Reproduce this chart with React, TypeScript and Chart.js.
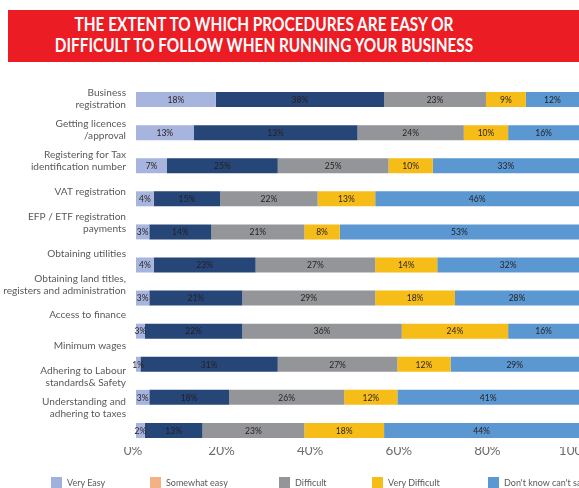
import React, { useEffect, useLayoutEffect, useRef } from "react";
import { Chart, registerables } from "chart.js";

Chart.register(...registerables);

// ---------- data ----------
const categories: string[][] = [
  ["Business", "registration"],
  ["Getting licences", "/approval"],
  ["Registering for Tax", "identification number"],
  ["VAT registration"],
  ["EFP / ETF registration", "payments"],
  ["Obtaining utilities"],
  ["Obtaining land titles,", "registers and administration"],
  ["Access to finance"],
  ["Minimum wages"],
  ["Adhering to Labour", "standards& Safety"],
  ["Understanding and", "adhering to taxes"],
];

const seriesNames = ["Very Easy", "Somewhat easy", "Difficult", "Very Difficult", "Don't know can't say"];

// bar lengths as drawn (%)
const veryEasy = [18, 13, 7, 4, 3, 4, 3, 2, 1, 3, 2];
const somewhatEasy = [38, 37, 25, 15, 14, 23, 21, 22, 31, 18, 13];
const difficult = [23, 24, 25, 22, 21, 27, 30, 36, 27, 26, 23];
const veryDifficult = [9, 10, 10, 13, 8, 14, 18, 24, 12, 12, 18];
const dontKnow = [12, 16, 33, 46, 54, 32, 28, 16, 29, 41, 44];

// labels as printed on the bars
const veryEasyText = ["18%", "13%", "7%", "4%", "3%", "4%", "3%", "3%", "1%", "3%", "2%"];
const somewhatEasyText = ["38%", "13%", "25%", "15%", "14%", "23%", "21%", "22%", "31%", "18%", "13%"];
const difficultText = ["23%", "24%", "25%", "22%", "21%", "27%", "29%", "36%", "27%", "26%", "23%"];
const veryDifficultText = ["9%", "10%", "10%", "13%", "8%", "14%", "18%", "24%", "12%", "12%", "18%"];
const dontKnowText = ["12%", "16%", "33%", "46%", "53%", "32%", "28%", "16%", "29%", "41%", "44%"];

const xTicks = [0, 20, 40, 60, 80, 100];

const titleLines = [
  "THE EXTENT TO WHICH PROCEDURES ARE EASY OR",
  "DIFFICULT TO FOLLOW WHEN RUNNING YOUR BUSINESS",
];

// ---------- styles / layout ----------
const barColors = ["#a7b4dd", "#274678", "#939598", "#f6bc17", "#5b97d0"];
const legendColors = ["#a0b1dc", "#f4b183", "#939598", "#f6bc17", "#5b97d0"];
const legendLeft = [51, 150, 279, 372, 488];
const FONT = "Lato, 'Open Sans', sans-serif";
const TEXT_GRAY = "#58595b";
const TITLE_WIDTHS = [379, 418];

// label row positions in category units (row i spans i..i+1)
const LABEL_START = 0.48;
const LABEL_STEP = 0.934;

const valueLabelPlugin = {
  id: "valueLabels",
  afterDatasetsDraw(chart: any) {
    const { ctx } = chart;
    ctx.save();
    ctx.font = `8.5px ${FONT}`;
    ctx.fillStyle = "#231f20";
    ctx.textAlign = "center";
    ctx.textBaseline = "middle";
    chart.data.datasets.forEach((ds: any, di: number) => {
      const meta = chart.getDatasetMeta(di);
      meta.data.forEach((el: any, i: number) => {
        const t = ds.valueText ? ds.valueText[i] : null;
        if (!t) return;
        const p = el.getProps(["x", "y", "base"], true);
        ctx.fillText(t, (p.x + p.base) / 2, p.y + 0.5);
      });
    });
    ctx.restore();
  },
};

export default function App() {
  const ref = useRef<HTMLCanvasElement>(null);
  const titleRefs = useRef<(HTMLDivElement | null)[]>([]);

  useLayoutEffect(() => {
    titleRefs.current.forEach((el, i) => {
      if (!el) return;
      const w = el.offsetWidth;
      el.style.transform = `translateX(-50%) scaleX(${TITLE_WIDTHS[i] / w})`;
    });
  }, []);

  useEffect(() => {
    document.body.style.margin = "0";
    const values = [veryEasy, somewhatEasy, difficult, veryDifficult, dontKnow];
    const texts = [veryEasyText, somewhatEasyText, difficultText, veryDifficultText, dontKnowText];
    const chart = new Chart(ref.current as HTMLCanvasElement, {
      type: "bar",
      data: {
        labels: categories.map((c) => c.join(" ")),
        datasets: values.map((v, i) => ({
          label: seriesNames[i],
          data: v,
          backgroundColor: barColors[i],
          borderWidth: 0,
          categoryPercentage: 1,
          barPercentage: 0.453,
          valueText: texts[i],
        })) as any,
      },
      options: {
        indexAxis: "y",
        responsive: false,
        animation: false,
        layout: { padding: { top: 83, right: 21, bottom: 29, left: 0 } },
        plugins: {
          legend: { display: false },
          tooltip: { enabled: false },
          title: { display: false },
        },
        scales: {
          x: {
            stacked: true,
            min: 0,
            max: 100,
            grid: { display: false, drawTicks: false },
            border: { display: false },
            afterBuildTicks: (s: any) => {
              s.ticks = xTicks.map((v) => ({ value: v }));
            },
            afterFit: (s: any) => {
              s.height = 12;
            },
            ticks: {
              padding: -4,
              labelOffset: -3,
              autoSkip: false,
              maxRotation: 0,
              color: "#6d6e71",
              font: { family: FONT, size: 13.5 },
              callback: (v: any) => v + "%",
            },
          },
          y: {
            type: "category",
            stacked: true,
            display: false,
          },
          yl: {
            type: "linear",
            position: "left",
            reverse: true,
            offset: false,
            grace: 0,
            min: 0,
            max: categories.length,
            grid: { display: false, drawTicks: false, offset: false },
            border: { display: false },
            afterBuildTicks: (s: any) => {
              s.ticks = categories.map((_, i) => ({ value: LABEL_START + i * LABEL_STEP }));
            },
            afterFit: (s: any) => {
              s.width = 136;
            },
            ticks: {
              padding: 10,
              autoSkip: false,
              color: TEXT_GRAY,
              font: { family: FONT, size: 10.1, lineHeight: 1.2 },
              callback: (_v: any, i: number) => categories[i],
            },
          },
        } as any,
      },
      plugins: [valueLabelPlugin],
    });
    return () => chart.destroy();
  }, []);

  return (
    <div
      style={{
        position: "relative",
        width: 579,
        height: 488,
        overflow: "hidden",
        background: "#ffffff",
      }}
    >
      <canvas ref={ref} width={600} height={488} style={{ position: "absolute", left: 0, top: 0 }} />
      <div
        style={{
          position: "absolute",
          left: 8,
          top: 10,
          width: 620,
          height: 52,
          background: "#ec1c24",
        }}
      />
      {titleLines.map((line, i) => (
        <div
          key={line}
          ref={(el) => {
            titleRefs.current[i] = el;
          }}
          style={{
            position: "absolute",
            left: 264,
            top: 14 + i * 21,
            color: "#ffffff",
            fontFamily: FONT,
            fontWeight: 700,
            fontSize: 18,
            lineHeight: "21px",
            whiteSpace: "nowrap",
          }}
        >
          {line}
        </div>
      ))}
      {seriesNames.map((n, i) => (
        <div
          key={n}
          style={{
            position: "absolute",
            left: legendLeft[i],
            top: 477,
            display: "flex",
            alignItems: "center",
            whiteSpace: "nowrap",
            fontFamily: FONT,
            fontSize: 9,
            lineHeight: "11px",
            color: TEXT_GRAY,
          }}
        >
          <span
            style={{
              display: "inline-block",
              width: 11,
              height: 11,
              background: legendColors[i],
              marginRight: 5,
            }}
          />
          <span>{n}</span>
        </div>
      ))}
    </div>
  );
}
